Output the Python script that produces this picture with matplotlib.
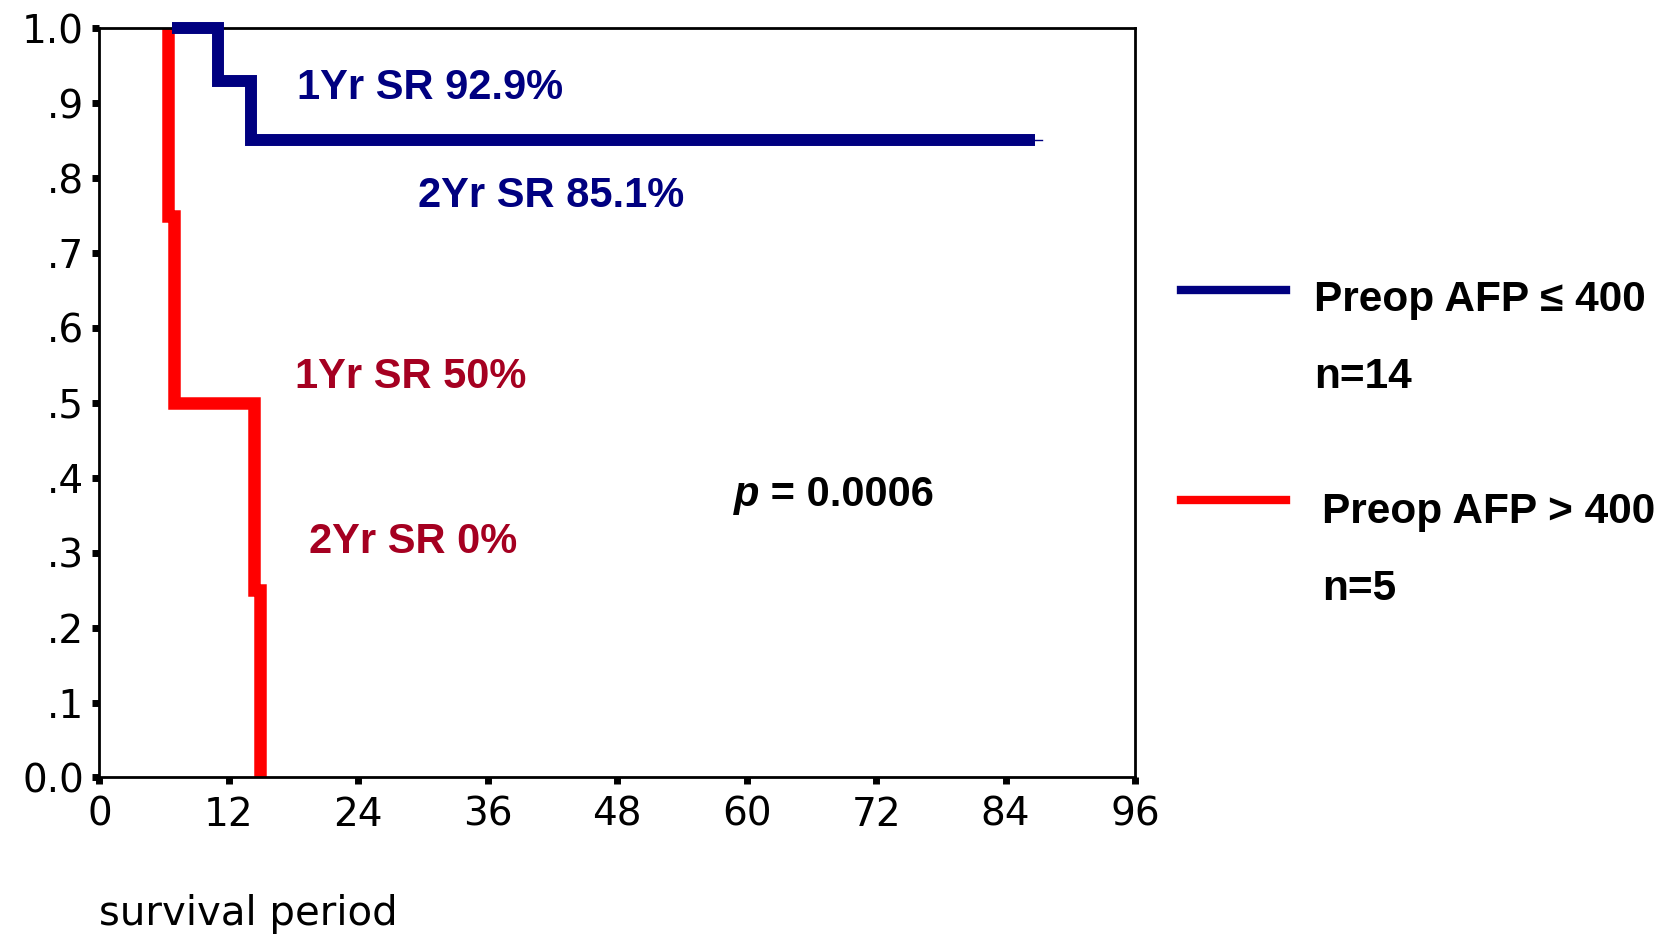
import matplotlib
matplotlib.use('Agg')
import matplotlib.pyplot as plt
import numpy as np

# Kaplan-Meier steps (months, cumulative survival)
low_afp_time = [6.7, 10.95, 14.05, 86.7]
low_afp_surv = [1.0, 0.929, 0.851, 0.851]
high_afp_time = [6.4, 6.4, 6.9, 14.3, 14.9]
high_afp_surv = [1.0, 0.75, 0.5, 0.25, 0.0]

x_ticks = [0, 12, 24, 36, 48, 60, 72, 84, 96]
y_ticks = [0.0, 0.1, 0.2, 0.3, 0.4, 0.5, 0.6, 0.7, 0.8, 0.9, 1.0]
y_ticklabels = ['0.0', '.1', '.2', '.3', '.4', '.5', '.6', '.7', '.8', '.9', '1.0']

NAVY = '#000080'
RED = '#ff0000'
DARKRED = '#a50021'

fig = plt.figure(figsize=(16.76, 9.34), dpi=100)
ax = fig.add_axes([0.0593, 0.1676, 0.6179, 0.8021])

ax.step(low_afp_time, low_afp_surv, where='post', color=NAVY, lw=8.6,
        solid_capstyle='butt', solid_joinstyle='miter', clip_on=False, zorder=3)
# censored mark at the end of the blue curve
ax.plot([low_afp_time[-1], low_afp_time[-1] + 0.7], [low_afp_surv[-1]] * 2,
        color=NAVY, lw=1, clip_on=False, zorder=3)
ax.step(high_afp_time, high_afp_surv, where='post', color=RED, lw=9,
        solid_capstyle='butt', solid_joinstyle='miter', clip_on=False, zorder=2)

ax.set_xlim(0, 96)
ax.set_ylim(0, 1)
ax.set_xticks(x_ticks)
ax.set_yticks(y_ticks)
ax.set_yticklabels(y_ticklabels)
for s in ax.spines.values():
    s.set_linewidth(2)
ax.tick_params(axis='both', direction='out', length=5, width=5, labelsize=28, color='black')
ax.tick_params(axis='y', pad=6)
ax.tick_params(axis='x', pad=8)

ax.text(0, -0.182, 'survival period', transform=ax.transAxes, fontsize=29,
        ha='left', va='center')

bold = dict(family='Liberation Sans', fontweight='bold', fontsize=30)
ax.text(18.3, 0.92, '1Yr SR 92.9%', color=NAVY, ha='left', va='center', **bold)
ax.text(29.5, 0.776, '2Yr SR 85.1%', color=NAVY, ha='left', va='center', **bold)
ax.text(18.1, 0.535, '1Yr SR 50%', color=DARKRED, ha='left', va='center', **bold)
ax.text(19.4, 0.314, '2Yr SR 0%', color=DARKRED, ha='left', va='center', **bold)
p_txt = ax.text(58.8, 0.362, 'p', color='black', ha='left', va='baseline',
                family='Liberation Sans', fontweight='bold', fontstyle='italic', fontsize=30)
ax.annotate(' = 0.0006', xy=(1, 0), xycoords=p_txt, ha='left', va='bottom',
            color='black', **bold)

# legend drawn by hand in figure coordinates
legend_font = dict(family='Liberation Sans', fontweight='bold', fontsize=30.5)
fig.lines.append(plt.Line2D([1181 / 1676, 1286 / 1676], [1 - 290 / 934] * 2,
                            color=NAVY, lw=6, transform=fig.transFigure))
fig.lines.append(plt.Line2D([1181 / 1676, 1286 / 1676], [1 - 500 / 934] * 2,
                            color=RED, lw=6, transform=fig.transFigure))
fig.text(1314 / 1676, 1 - 300 / 934, 'Preop AFP \u2264 400', ha='left', va='center', **legend_font)
fig.text(1314 / 1676, 1 - 377 / 934, 'n=14', ha='left', va='center', **legend_font)
fig.text(1322 / 1676, 1 - 512 / 934, 'Preop AFP > 400', ha='left', va='center', **legend_font)
fig.text(1322 / 1676, 1 - 589 / 934, 'n=5', ha='left', va='center', **legend_font)

fig.savefig('out.png', dpi=100)
